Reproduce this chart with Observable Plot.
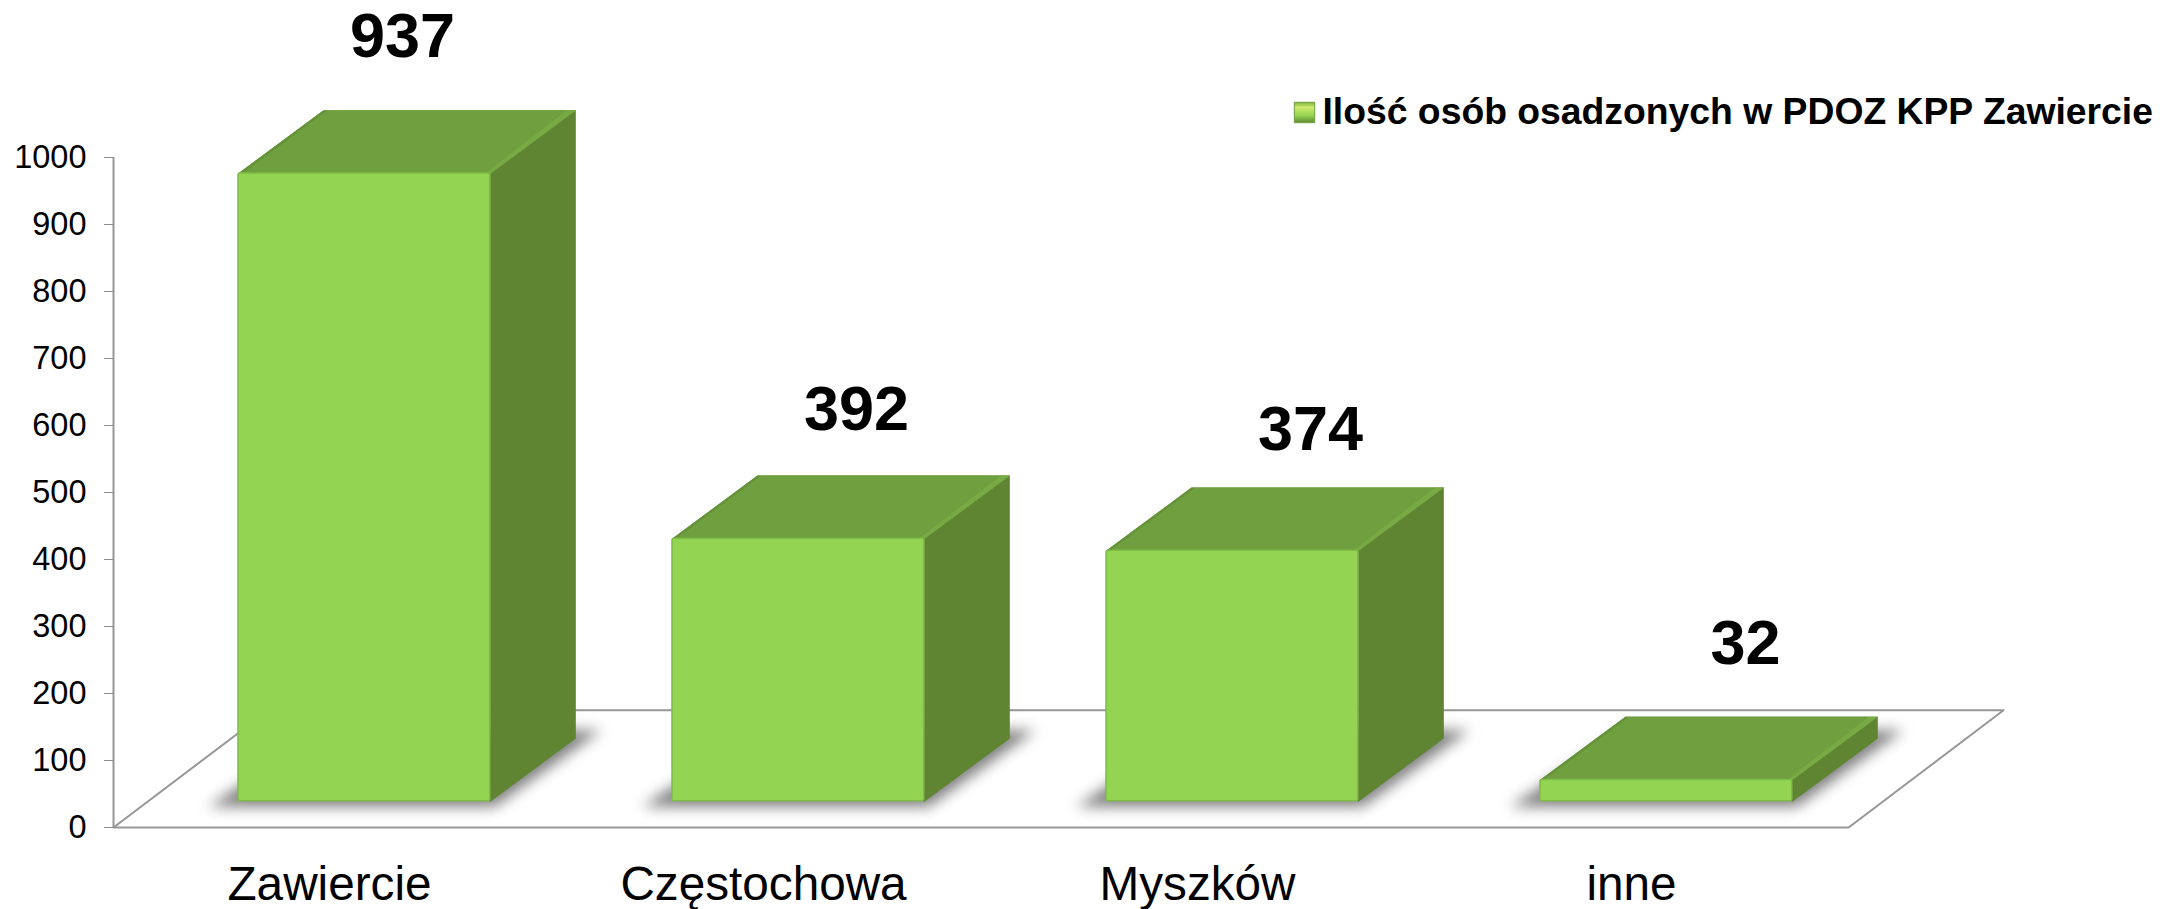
<!DOCTYPE html>
<html lang="pl">
<head>
<meta charset="utf-8">
<style>html,body{margin:0;padding:0;background:#fff}svg{display:block}</style>
<script src="https://cdn.jsdelivr.net/npm/d3@7"></script>
<script src="https://cdn.jsdelivr.net/npm/@observablehq/plot@0.6"></script>
</head>
<body>
<div id="chart"></div>
<script>
const categories = ["Zawiercie", "Częstochowa", "Myszków", "inne"];
const values = [937, 392, 374, 32];
const yTicks = [0, 100, 200, 300, 400, 500, 600, 700, 800, 900, 1000];
const legendLabel = "Ilość osób osadzonych w PDOZ KPP Zawiercie";

// Chart geometry in scale units (x: one unit per category slot, y: counts)
const barLeft = 0.288, barWidth = 0.58;
const depthX = 0.196, depthY = 94;
const lift = 39;
const floorDepthX = 0.357, floorDepthY = 175;
// hand-placed value labels, pixel nudges from the top of each bar's slot
const labelDx = [72, 92, 112, 113];
const labelDy = [-137, -129, -121, -136];

const bars = values.map((v, i) => ({
  i, name: categories[i], v,
  l: i + barLeft, r: i + barLeft + barWidth, b: lift, t: lift + v
}));
const poly = (pts, id) => pts.map(([x, y]) => ({x, y, id}));
const sides = bars.flatMap(d => poly([[d.r, d.t], [d.r + depthX, d.t + depthY], [d.r + depthX, d.b + depthY], [d.r, d.b]], d.i));
const tops = bars.flatMap(d => poly([[d.l, d.t], [d.l + depthX, d.t + depthY], [d.r + depthX, d.t + depthY], [d.r, d.t]], d.i));
const shadows = bars.flatMap(d => poly([
  [d.l - 0.07, d.b - 8], [d.r + 0.01, d.b - 8],
  [d.r + depthX + 0.06, d.b + depthY + 12], [d.l + depthX, d.b + depthY + 12]
], d.i));
const topRightEdge = bars.flatMap(d => poly([[d.r, d.t], [d.r + depthX, d.t + depthY], [d.r + depthX - 0.02, d.t + depthY], [d.r - 0.012, d.t]], d.i));
const topLeftEdge = bars.flatMap(d => poly([[d.l, d.t], [d.l + depthX, d.t + depthY], [d.l + depthX + 0.008, d.t + depthY], [d.l + 0.008, d.t]], d.i));
const floor = poly([[0, 0], [3.998, 0], [3.998 + floorDepthX, floorDepthY], [floorDepthX, floorDepthY]], 0);

const font = '"Liberation Sans", Arial, sans-serif';

const defs = () => {
  const g = d3.create("svg:defs");
  const lg = g.append("linearGradient").attr("id", "swatch").attr("x1", 0).attr("x2", 0).attr("y1", 0).attr("y2", 1);
  lg.append("stop").attr("offset", "0%").attr("stop-color", "#7fb53f");
  lg.append("stop").attr("offset", "25%").attr("stop-color", "#cfe96c");
  lg.append("stop").attr("offset", "65%").attr("stop-color", "#93d452");
  lg.append("stop").attr("offset", "100%").attr("stop-color", "#5f8a33");
  return g.node();
};

const chart = Plot.plot({
  width: 2160,
  height: 909,
  marginLeft: 113,
  marginRight: 311,
  marginTop: 157,
  marginBottom: 82,
  style: {fontFamily: font, background: "#fff", overflow: "visible"},
  x: {domain: [0, 4]},
  y: {domain: [0, 1000]},
  marks: [
    defs,
    Plot.line(floor, {x: "x", y: "y", z: "id", curve: "linear-closed", stroke: "#979797", strokeWidth: 2}),
    Plot.line(shadows, {x: "x", y: "y", z: "id", curve: "linear-closed", fill: "#808080", stroke: "none", imageFilter: "blur(7px)"}),
    Plot.ruleX([0], {y1: 0, y2: 1000, stroke: "#979797", strokeWidth: 2}),
    Plot.axisY({ticks: yTicks, tickFormat: d => String(d), tickSize: 9, tickPadding: 18, fontSize: 32.5, stroke: "#8c8c8c", fill: "#000", label: null}),
    Plot.axisX({ticks: [0.5, 1.5, 2.5, 3.5], tickFormat: d => categories[Math.floor(d)], tickSize: 0, tickPadding: 39, fontSize: 47.7, fill: "#000", dx: -1, label: null}),
    Plot.line(sides, {x: "x", y: "y", z: "id", curve: "linear-closed", fill: "#5f8533", stroke: "#5f8533", strokeWidth: 1}),
    Plot.line(tops, {x: "x", y: "y", z: "id", curve: "linear-closed", fill: "#6f9f3f", stroke: "#6f9f3f", strokeWidth: 1}),
    Plot.line(topLeftEdge, {x: "x", y: "y", z: "id", curve: "linear-closed", fill: "#64923a", stroke: "none"}),
    Plot.line(topRightEdge, {x: "x", y: "y", z: "id", curve: "linear-closed", fill: "#78aa44", stroke: "none"}),
    Plot.rect(bars, {x1: "l", x2: "r", y1: "b", y2: "t", fill: "#93d452", stroke: "#7fbb47", strokeWidth: 1.5, rx: 2}),
    ...bars.map((d, k) => Plot.text([d], {
      x: e => e.i + 0.5, y: "t", text: e => String(e.v),
      dx: labelDx[k], dy: labelDy[k],
      fontSize: 63, fontWeight: "bold", fill: "#000"
    })),
    Plot.dot([legendLabel], {frameAnchor: "top-left", dx: 1191, dy: -45, symbol: "square", r: 11.5, fill: "url(#swatch)", stroke: "#6f9f3f", strokeWidth: 1}),
    Plot.text([legendLabel], {frameAnchor: "top-left", dx: 1209, dy: -45, textAnchor: "start", lineAnchor: "middle", fontSize: 37.3, fontWeight: "bold", fill: "#000"})
  ]
});
document.getElementById("chart").append(chart);
</script>
</body>
</html>
